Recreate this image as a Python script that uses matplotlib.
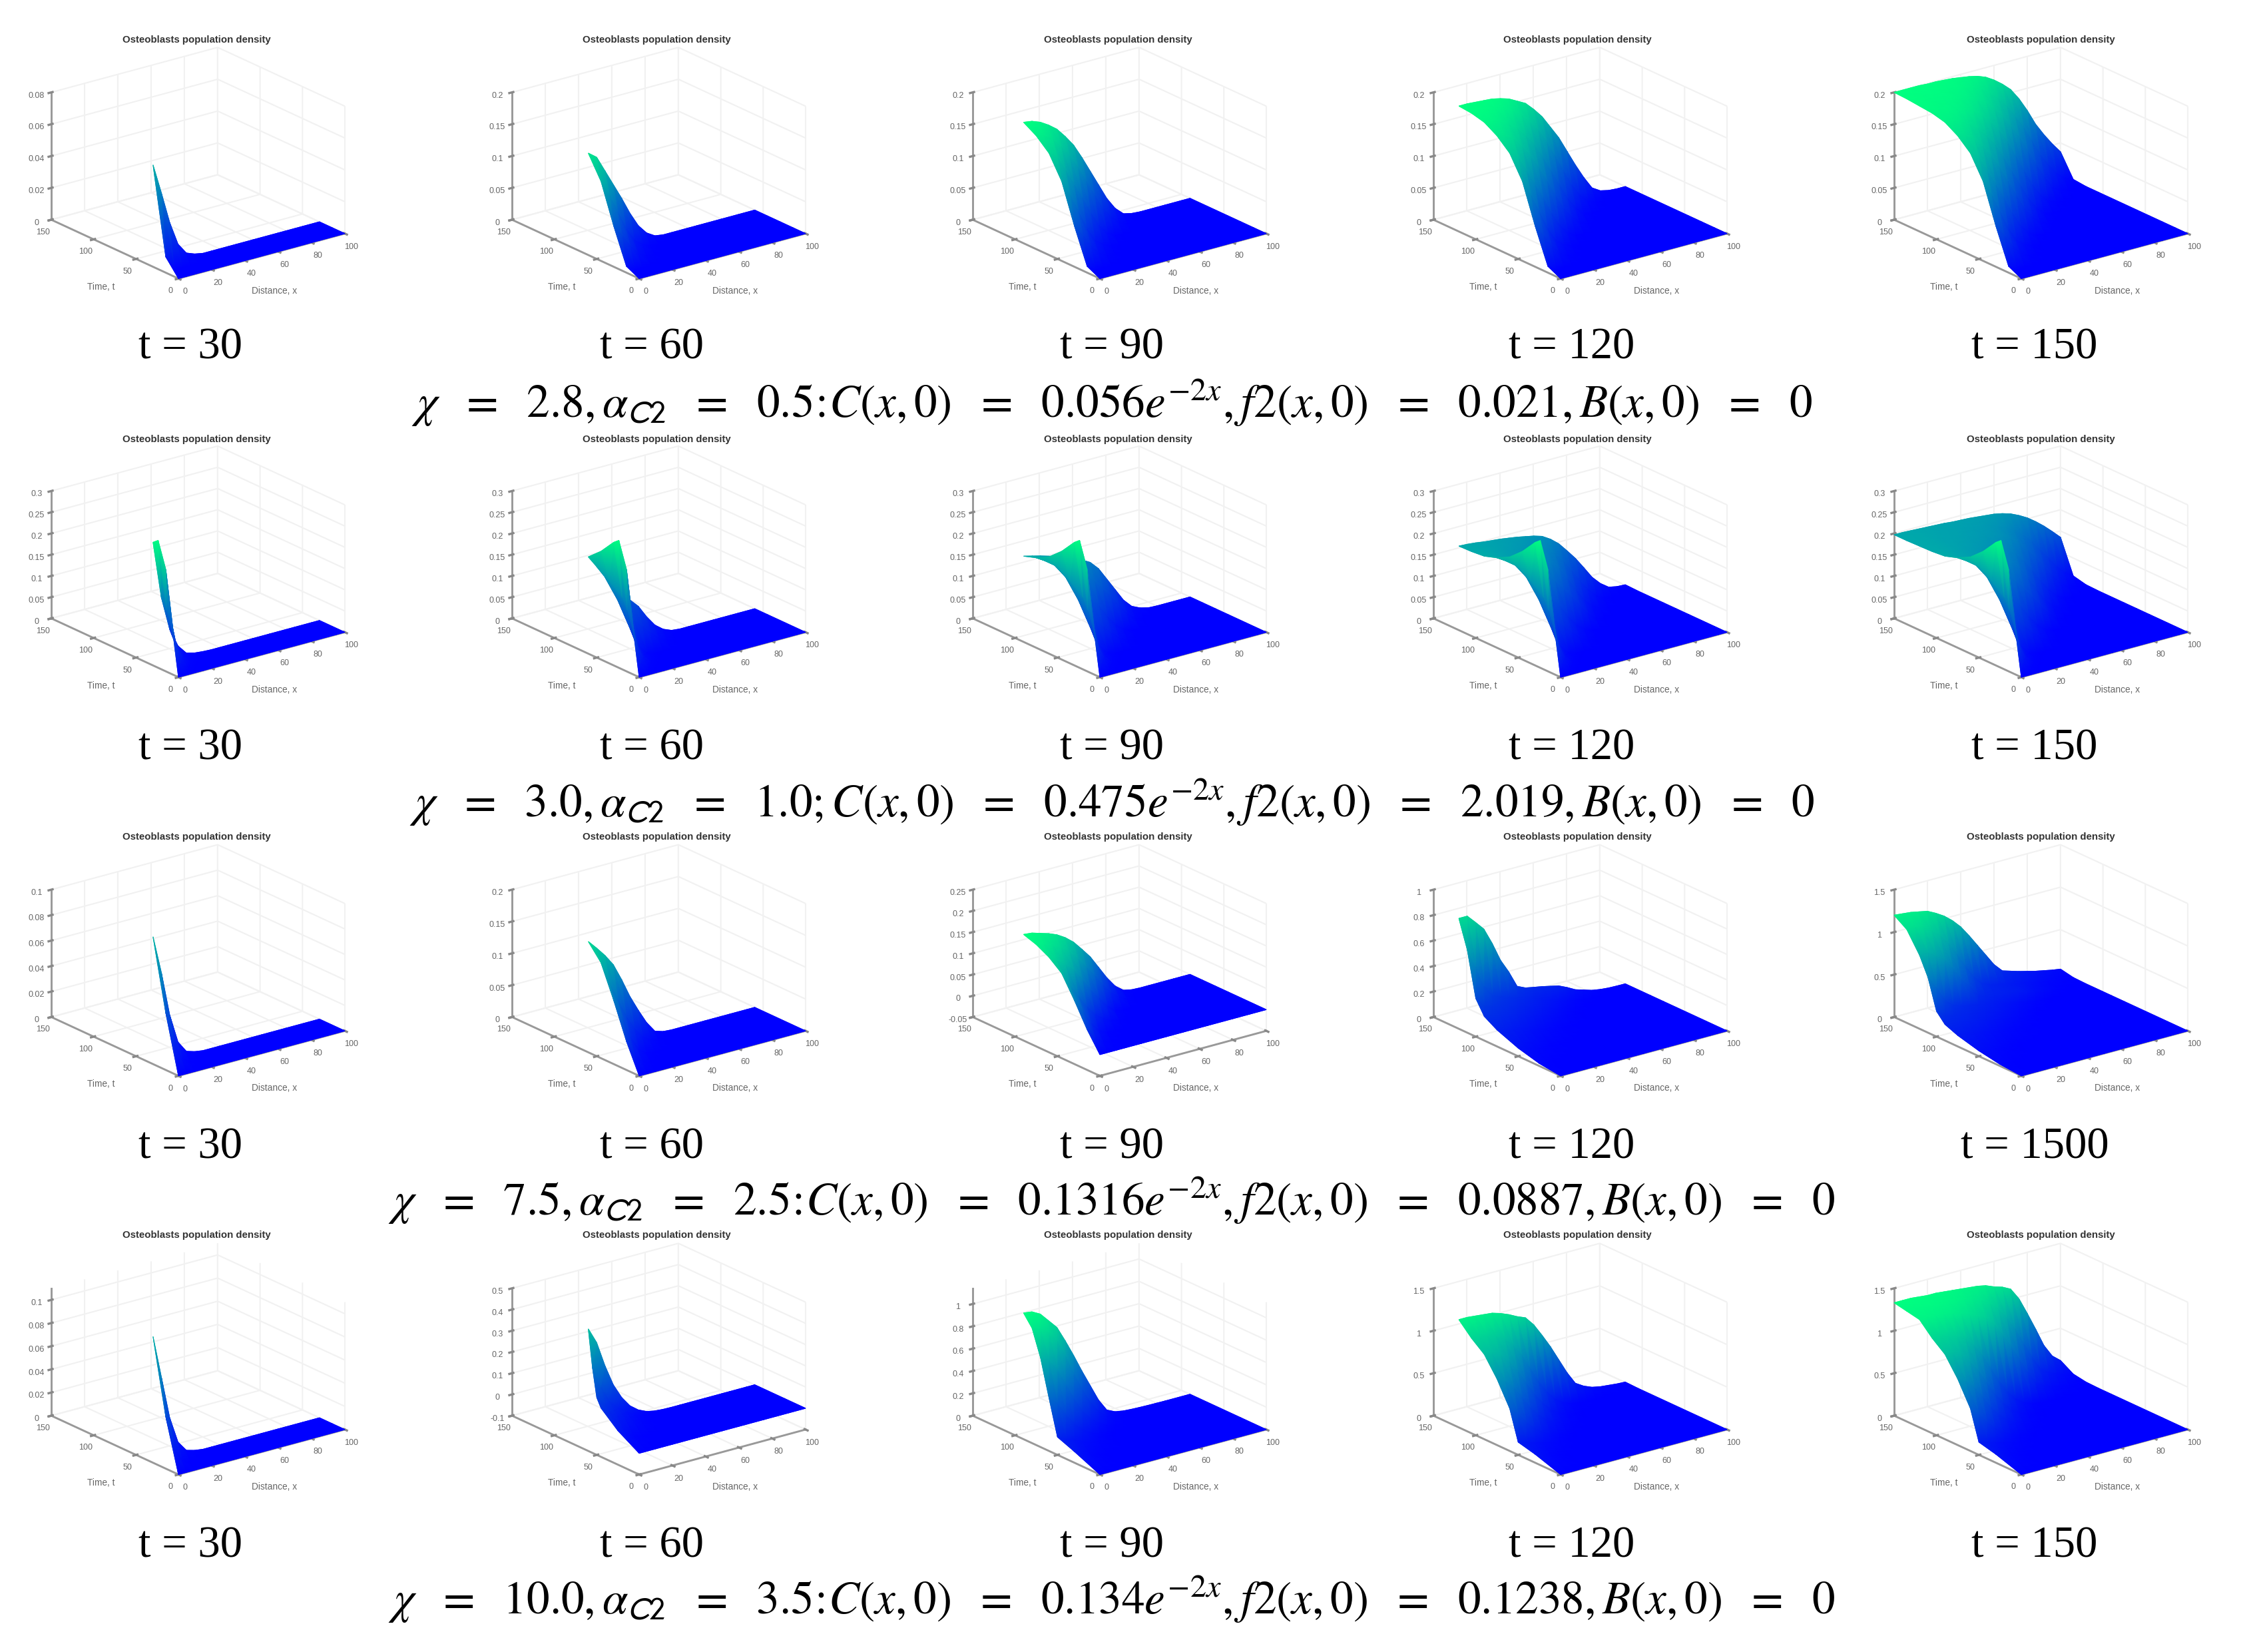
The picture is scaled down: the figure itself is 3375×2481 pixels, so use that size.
import numpy as np
import matplotlib
matplotlib.use("Agg")
import matplotlib.pyplot as plt
from mpl_toolkits.mplot3d import proj3d

# ---------------- values ----------------
X_KNOTS = [0, 5, 10, 15, 20, 25, 30, 35, 40, 45, 50, 55, 60, 65, 70, 75, 80, 85, 90, 95, 100]

# Each table: time knots and z at X_KNOTS; a row stops where the surface has reached zero.
ROW1_T = [0, 15, 30, 45, 60, 75, 90, 105, 120, 135, 150]
ROW1_Z = [[0],
          [.01, .001],
          [.064, .045, .025, .01, .003, .001],
          [.125, .10, .07, .04, .018, .008, .002],
          [.16, .15, .125, .10, .075, .048, .025, .01, .002],
          [.178, .174, .165, .15, .132, .11, .085, .06, .035, .018, .006, .001],
          [.19, .188, .183, .175, .165, .15, .133, .11, .085, .06, .035, .016, .004, .001],
          [.195, .194, .193, .19, .186, .18, .17, .155, .14, .118, .092, .066, .04, .02, .007, .002],
          [.197, .197, .196, .195, .194, .191, .187, .18, .173, .16, .145, .125, .105, .08, .055, .032, .012, .004, .001],
          [.199, .199, .198, .198, .197, .196, .195, .192, .188, .182, .172, .16, .145, .125, .105, .08, .055, .035, .018, .007, .002],
          [.2, .2, .2, .2, .199, .199, .198, .197, .195, .193, .19, .185, .177, .167, .155, .137, .115, .09, .07, .052, .036]]

ROW2_T = [0, 8, 15, 24, 30, 45, 60, 75, 90, 105, 120, 135, 150]
ROW2_Z = [[0],
          [.12, .02, .004],
          [.24, .07, .02, .004],
          [.30, .13, .05, .015, .004, .001],
          [.29, .155, .075, .03, .008, .003, .001],
          [.255, .18, .13, .095, .07, .05, .03, .013, .004, .001],
          [.228, .20, .17, .145, .12, .10, .08, .05, .025, .01, .002],
          [.212, .20, .188, .176, .165, .152, .138, .118, .095, .07, .045, .02, .005, .001],
          [.202, .197, .192, .186, .18, .173, .165, .156, .145, .125, .095, .065, .035, .015, .006, .001],
          [.199, .197, .194, .19, .186, .182, .177, .172, .165, .155, .14, .118, .09, .06, .035, .015, .004, .001],
          [.198, .197, .195, .192, .19, .188, .185, .182, .178, .174, .168, .156, .14, .118, .095, .068, .04, .02, .006, .002, .001],
          [.197, .197, .196, .194, .192, .191, .189, .187, .185, .182, .178, .172, .163, .15, .135, .115, .09, .065, .04, .02, .008],
          [.197, .197, .196, .195, .194, .193, .192, .19, .189, .188, .186, .184, .182, .178, .172, .163, .152, .138, .122, .104, .085]]

ROW3A_T = [0, 15, 30, 45, 60, 75, 90]
ROW3A_Z = [[0],
           [.045, .018, .005, .001],
           [.10, .07, .035, .012, .003, .001],
           [.15, .115, .085, .055, .032, .016, .007, .002],
           [.174, .16, .145, .127, .10, .07, .045, .022, .005, .001],
           [.19, .184, .175, .165, .15, .13, .105, .08, .052, .028, .012, .003],
           [.20, .198, .192, .186, .178, .166, .15, .128, .105, .075, .045, .02, .005, .001]]

ROW3B_T = [0, 25, 50, 75, 90, 100, 110, 120, 135, 150]
ROW3B_Z = [[0],
           [.02, .01, .003],
           [.064, .05, .035, .02, .01, .004, .001],
           [.13, .12, .10, .085, .065, .05, .035, .02, .01, .005, .002],
           [.19, .18, .165, .15, .13, .11, .09, .07, .05, .032, .018, .008, .003],
           [.30, .22, .20, .185, .17, .15, .13, .11, .09, .065, .045, .025, .012, .005, .002],
           [.65, .50, .33, .24, .21, .19, .17, .15, .13, .105, .085, .06, .04, .022, .01, .004, .002],
           [.867, .867, .80, .73, .60, .45, .34, .21, .18, .167, .155, .14, .125, .095, .06, .04, .02, .009, .003, .001],
           [1.1, 1.1, 1.07, 1.0, .92, .8, .65, .48, .33, .23, .18, .16, .14, .12, .10, .075, .05, .033, .02, .01, .005],
           [1.2, 1.19, 1.18, 1.16, 1.14, 1.09, 1.03, .95, .85, .72, .58, .44, .3, .2, .17, .14, .115, .09, .07, .05, .035]]

ROW4A_T = [0, 15, 30]
ROW4A_Z = [[0],
           [.045, .015, .003],
           [.109, .072, .035, .012, .003, .001]]

ROW4B_T = [0, 25, 45, 50, 55, 60]
ROW4B_Z = [[0],
           [.06, .03, .012, .003],
           [.13, .10, .07, .045, .025, .012, .004, .001],
           [.17, .125, .09, .06, .035, .018, .008, .002],
           [.30, .20, .12, .08, .05, .028, .012, .004, .001],
           [.475, .40, .28, .18, .11, .06, .03, .012, .004, .001]]

ROW4C_T = [0, 30, 50, 60, 70, 80, 90]
ROW4C_Z = [[0],
           [.10, .06, .03, .012, .004, .001],
           [.16, .12, .09, .06, .04, .02, .01, .003],
           [.475, .40, .28, .18, .11, .06, .03, .012, .004, .001],
           [.80, .75, .65, .50, .35, .22, .13, .07, .03, .013, .005, .002],
           [1.03, 1.0, .95, .85, .70, .52, .36, .22, .12, .055, .02, .008, .003, .001],
           [1.13, 1.12, 1.08, 1.0, .92, .78, .63, .47, .32, .17, .06, .025, .012, .007, .004, .002, .001]]

ROW4D_T = [0, 30, 50, 60, 75, 90, 105, 120, 135, 150]
ROW4D_Z = [[0],
           [.10, .06, .03, .012, .004, .001],
           [.15, .12, .09, .06, .04, .02, .01, .003],
           [.50, .40, .28, .18, .11, .06, .03, .012, .004, .001],
           [.78, .72, .62, .48, .33, .22, .13, .08, .04, .02, .008, .003, .001],
           [1.0, .98, .93, .83, .70, .53, .37, .24, .13, .07, .03, .012, .005, .002],
           [1.12, 1.11, 1.09, 1.06, 1.0, .90, .76, .58, .40, .25, .14, .07, .03, .013, .006, .002, .001],
           [1.27, 1.27, 1.26, 1.25, 1.24, 1.21, 1.17, 1.12, 1.08, .97, .82, .66, .48, .30, .15, .09, .05, .03, .02, .01, .005],
           [1.3, 1.3, 1.3, 1.3, 1.29, 1.28, 1.27, 1.25, 1.22, 1.18, 1.12, 1.03, .90, .74, .55, .36, .2, .13, .08, .05, .03],
           [1.33, 1.33, 1.33, 1.32, 1.31, 1.31, 1.30, 1.29, 1.28, 1.27, 1.26, 1.24, 1.2, 1.17, 1.12, .98, .78, .57, .35, .2, .12]]

TABLES = [[(ROW1_T, ROW1_Z)] * 5,
          [(ROW2_T, ROW2_Z)] * 5,
          [(ROW3A_T, ROW3A_Z)] * 3 + [(ROW3B_T, ROW3B_Z)] * 2,
          [(ROW4A_T, ROW4A_Z), (ROW4B_T, ROW4B_Z), (ROW4C_T, ROW4C_Z),
           (ROW4D_T, ROW4D_Z), (ROW4D_T, ROW4D_Z)]]

T_ENDS = [30, 60, 90, 120, 150]
T_LABELS = [["t = 30", "t = 60", "t = 90", "t = 120", "t = 150"],
            ["t = 30", "t = 60", "t = 90", "t = 120", "t = 150"],
            ["t = 30", "t = 60", "t = 90", "t = 120", "t = 1500"],
            ["t = 30", "t = 60", "t = 90", "t = 120", "t = 150"]]

ZLIMS = [[(0, .08), (0, .2), (0, .2), (0, .2), (0, .2)],
         [(0, .3)] * 5,
         [(0, .1), (0, .2), (-.05, .25), (0, 1), (0, 1.5)],
         [(0, .11), (-.1, .5), (0, 1.14), (0, 1.5), (0, 1.5)]]
ZSTEPS = [[.02, .05, .05, .05, .05],
          [.05] * 5,
          [.02, .05, .05, .2, .5],
          [.02, .1, .2, .5, .5]]
COLOR_TOP = [[.72, .9, 1, 1, 1],
             [1, 1, 1, 1, 1],
             [.75, .85, 1, .85, .95],
             [.75, .75, 1, .95, 1]]

TITLE = "Osteoblasts population density"
X_LABEL = "Distance, x"
T_LABEL = "Time, t"
X_TICKS = [0, 20, 40, 60, 80, 100]
T_TICKS = [0, 50, 100, 150]
EQUATIONS = [
    r"$\chi\ \ =\ \ 2.8,\alpha_{\mathsf{C2}}\ \ =\ \ 0.5\!:\!C(x,0)\ \ =\ \ 0.056e^{-2x},f2(x,0)\ \ =\ \ 0.021,B(x,0)\ \ =\ \ 0$",
    r"$\chi\ \ =\ \ 3.0,\alpha_{\mathsf{C2}}\ \ =\ \ 1.0;C(x,0)\ \ =\ \ 0.475e^{-2x},f2(x,0)\ \ =\ \ 2.019,B(x,0)\ \ =\ \ 0$",
    r"$\chi\ \ =\ \ 7.5,\alpha_{\mathsf{C2}}\ \ =\ \ 2.5\!:\!C(x,0)\ \ =\ \ 0.1316e^{-2x},f2(x,0)\ \ =\ \ 0.0887,B(x,0)\ \ =\ \ 0$",
    r"$\chi\ \ =\ \ 10.0,\alpha_{\mathsf{C2}}\ \ =\ \ 3.5\!:\!C(x,0)\ \ =\ \ 0.134e^{-2x},f2(x,0)\ \ =\ \ 0.1238,B(x,0)\ \ =\ \ 0$",
]

# ---------------- layout (pixels of the 3375x2481 picture) ----------------
W, H = 3375, 2481
DPI = 300
COL_STEP, ROW_STEP = 692, 598.7
L0 = np.array([77.0, 330.0])          # corner x=0, t=150 of the first panel
TO_B = np.array([191.0, 89.0])        # corner x=0, t=0 relative to it
TO_R = np.array([250.0, -67.0])       # corner x=100, t=0 relative to that
XLABEL_AT = np.array([335.0, 107.0])  # axis-label centres relative to that first corner
TLABEL_AT = np.array([75.0, 101.0])
ELEV, AZIM = 20.7, -127.4
T_X = [286, 979, 1670, 2361, 3056]
T_Y = [522, 1124, 1723, 2322]
EQ_Y = [605, 1205, 1803, 2402]
TITLE_X = [295, 986, 1679, 2369, 3065]
TITLE_Y = [60, 660, 1257, 1855]

plt.rcParams["mathtext.fontset"] = "stix"
plt.rcParams["font.family"] = ["Liberation Sans", "DejaVu Sans"]
fig = plt.figure(figsize=(W / DPI, H / DPI), dpi=DPI, facecolor="white")
overlay = fig.add_axes([0, 0, 1, 1], zorder=5)
overlay.set_xlim(0, W)
overlay.set_ylim(H, 0)
overlay.axis("off")


def to_px(ax, xs, ys, zs):
    ax.apply_aspect()
    tx, ty, tz = proj3d.proj_transform(np.asarray(xs, float), np.asarray(ys, float),
                                       np.asarray(zs, float), ax.get_proj())
    p = ax.transData.transform(np.c_[tx, ty])
    return p[:, 0], H - p[:, 1], tz


def panel(r, c):
    t_grid, z_rows = TABLES[r][c]
    t_end = T_ENDS[c]
    n = sum(1 for t in t_grid if t <= t_end)
    ts = np.array(t_grid[:n], float)
    xs = np.array(X_KNOTS, float)
    zz = np.zeros((n, len(xs)))
    for i in range(n):
        zz[i, :len(z_rows[i])] = z_rows[i]
    zlo, zhi = ZLIMS[r][c]

    size = 800
    L = L0 + [c * COL_STEP, r * ROW_STEP]
    B = L + TO_B
    R = B + TO_R
    ax = fig.add_axes([(L[0] + 200 - size / 2) / W, 1 - (L[1] + size / 2) / H, size / W, size / H],
                      projection="3d", proj_type="ortho")
    ax.view_init(elev=ELEV, azim=AZIM)
    ax.set_xlim(0, 100, view_margin=0)
    ax.set_ylim(0, 150, view_margin=0)
    ax.set_zlim(zlo, zhi, view_margin=0)
    aspect = (1, 1, 0.65)
    ax.set_box_aspect(aspect, zoom=1.0)
    # scale and shift the box so its corners fall where the reference has them
    px, py, _ = to_px(ax, [0, 0, 100], [150, 0, 0], [zlo] * 3)
    k = (R[0] - L[0]) / (px[2] - px[0])
    ax.set_box_aspect(aspect, zoom=k)
    px, py, _ = to_px(ax, [0], [150], [zlo])
    dx, dy = L[0] - px[0], L[1] - py[0]
    pos = ax.get_position()
    ax.set_position([pos.x0 + dx / W, pos.y0 - dy / H, pos.width, pos.height])

    # axes decoration
    for axis in (ax.xaxis, ax.yaxis, ax.zaxis):
        axis.set_pane_color((1, 1, 1, 0))
        axis.pane.set_edgecolor("#e2e2e2")
        axis.pane.set_linewidth(0.4)
        axis._axinfo["grid"].update(color="#f1f1f1", linewidth=0.5)
        axis.line.set_color("#999999")
        axis.line.set_linewidth(0.7)
    ax.set_xticks(X_TICKS)
    ax.set_yticks(T_TICKS)
    step = ZSTEPS[r][c]
    lo_i = int(np.ceil(zlo / step - 1e-6))
    hi_i = int(np.floor(zhi / step + 1e-6))
    zt = np.arange(lo_i, hi_i + 1) * step
    ax.set_zticks(zt)
    ax.set_zticklabels([f"{round(v, 3):g}" for v in zt])
    ax.tick_params(axis="both", labelsize=3.0, labelcolor="#666666", pad=-3.0,
                   length=0, width=0.3, color="#888888")
    for at, text in ((XLABEL_AT, X_LABEL), (TLABEL_AT, T_LABEL)):
        ax.text2D((L[0] + at[0]) / W, 1 - (L[1] + at[1]) / H, text, transform=fig.transFigure,
                  fontsize=3.3, color="#666666", ha="center", va="center")

    # surface: the read grid, projected through the 3D axes and drawn far to near
    gx, gt = np.meshgrid(xs, ts)
    vx, vy, vz = to_px(ax, gx.ravel(), gt.ravel(), zz.ravel())
    nx = len(xs)
    tris = []
    for i in range(n - 1):
        for j in range(nx - 1):
            a, b, d, e = i * nx + j, i * nx + j + 1, (i + 1) * nx + j, (i + 1) * nx + j + 1
            tris += [(a, b, e), (a, e, d)]
    tris = np.array(tris)
    order = np.argsort(-vz[tris].mean(axis=1))
    vmax = zz.max() / COLOR_TOP[r][c]
    for _ in range(2):   # twice, so thin ridges keep their full colour at the edges
        overlay.tripcolor(vx, vy, tris[order], zz.ravel(), shading="gouraud",
                          cmap="winter", vmin=0, vmax=vmax)

    fig.text(TITLE_X[c] / W, 1 - TITLE_Y[r] / H, TITLE, fontsize=3.6, fontweight="bold",
             color="#333333", ha="center", va="center")
    fig.text(T_X[c] / W, 1 - T_Y[r] / H, T_LABELS[r][c], fontsize=16.0, color="black",
             family=["Liberation Serif"], ha="center", va="center")
    return ax


for r in range(4):
    for c in range(5):
        panel(r, c)
    fig.text(1670 / W, 1 - EQ_Y[r] / H, EQUATIONS[r], fontsize=16.6, color="black",
             ha="center", va="center")

fig.savefig("out.png", dpi=DPI, facecolor="white")
